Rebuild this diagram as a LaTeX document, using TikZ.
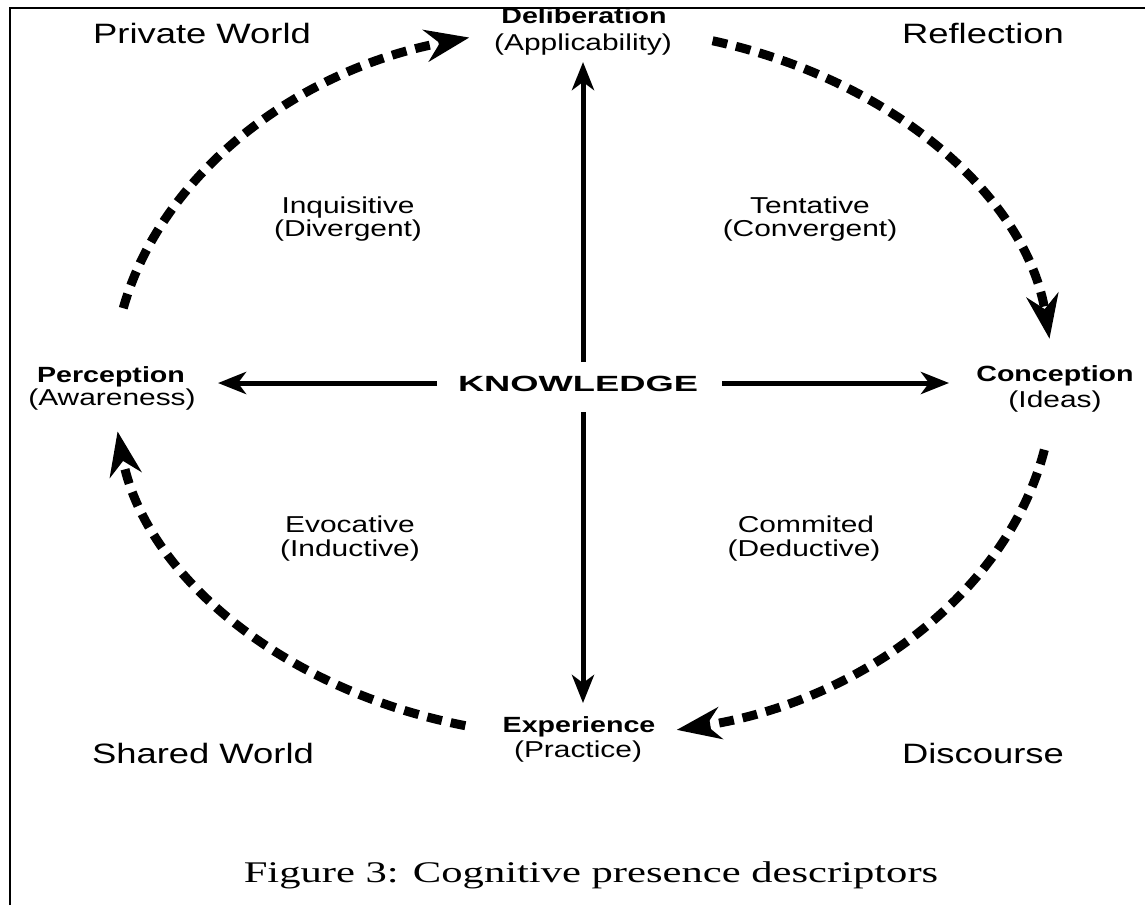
\documentclass[tikz,border=0pt]{standalone}
\usepackage{fontspec}
\usetikzlibrary{arrows.meta,calc}
\newfontfamily\labfont[FakeStretch=1.3]{Liberation Sans}
\newfontfamily\knowfont[FakeStretch=1.65]{Liberation Sans}
\newfontfamily\capfont[FakeStretch=1.42]{Liberation Serif}
\tikzset{
  corner/.style={font=\labfont\fontsize{28}{32}\selectfont, anchor=base, inner sep=0pt},
  small/.style={font=\labfont\fontsize{23}{27}\selectfont, anchor=base, inner sep=0pt},
  head/.style={font=\labfont\bfseries\fontsize{22}{26}\selectfont, anchor=base, inner sep=0pt},
  arr/.style={line width=5pt, -{Stealth[length=28pt,width=22pt,inset=8pt]}},
  darc/.style={line width=9pt, dash pattern=on 15pt off 9pt, -{Stealth[length=44pt,width=32pt,inset=14pt]}},
  frame/.style={line width=2.5pt}
}
\begin{document}
\begin{tikzpicture}[x=1pt,y=-1pt]
\useasboundingbox (0,0) rectangle (1147,905);
\fill[white] (0,0) rectangle (1147,905);

% corner labels
\node[corner] (pw) at (202,43) {Private World};
\node[corner] (rf) at (983,43) {Reflection};
\node[corner] (sw) at (203,763) {Shared World};
\node[corner] (dc) at (983,763) {Discourse};

% pole labels
\node[head] (delib) at (584,23) {Deliberation};
\node[small] (delibsub) at (583,50) {(Applicability)};
\node[head] (perc) at (111,382) {Perception};
\node[small] (percsub) at (112,405) {(Awareness)};
\node[head] (conc) at (1055,381) {Conception};
\node[small] (concsub) at (1055,407) {(Ideas)};
\node[head] (exper) at (579,732) {Experience};
\node[small] (expersub) at (578,757) {(Practice)};

% quadrant labels
\node[small] (inq) at (348,213) {Inquisitive};
\node[small] (inqsub) at (348,236) {(Divergent)};
\node[small] (ten) at (810,213) {Tentative};
\node[small] (tensub) at (810,236) {(Convergent)};
\node[small] (evo) at (350,532) {Evocative};
\node[small] (evosub) at (350,556) {(Inductive)};
\node[small] (com) at (806,532) {Commited};
\node[small] (comsub) at (804,556) {(Deductive)};

% centre
\node[font=\knowfont\bfseries\fontsize{22}{26}\selectfont, anchor=base, inner sep=0pt] (know) at (578,391) {KNOWLEDGE};

% axis arrows
\coordinate (kW) at (437,383);
\coordinate (kE) at (722,383);
\coordinate (kN) at (583,362);
\coordinate (kS) at (583,412);
\coordinate (tipW) at (218,383);
\coordinate (tipE) at (949,383);
\coordinate (tipN) at (583,62);
\coordinate (tipS) at (583,703);
\draw[arr] (kW) -- (tipW);
\draw[arr] (kE) -- (tipE);
\draw[arr] (kN) -- (tipN);
\draw[arr] (kS) -- (tipS);

% dashed cycle arcs
\coordinate (O) at (583,382);
\coordinate (a1) at ($(O)+(192:470 and 355)$);
\coordinate (a2) at ($(O)+(286:470 and 355)$);
\coordinate (a3) at ($(O)+(11:470 and 355)$);
\coordinate (a4) at ($(O)+(104.5:470 and 355)$);
\draw[darc] (a1) arc[start angle=192, end angle=256, x radius=470, y radius=355];
\draw[darc] (a2) arc[start angle=286, end angle=353, x radius=470, y radius=355];
\draw[darc] (a3) arc[start angle=11, end angle=78.5, x radius=470, y radius=355];
\draw[darc] (a4) arc[start angle=104.5, end angle=172, x radius=470, y radius=355];

% caption
\node[font=\capfont\fontsize{30}{34}\selectfont, anchor=base, inner sep=0pt] (cap) at (591,882) {Figure 3: Cognitive presence descriptors};

% frame (clips the top of Deliberation)
\fill[white] (0,0) rectangle (1147,7);
\draw[frame] (10,905) -- (10,8) -- (1145,8);
\end{tikzpicture}
\end{document}
